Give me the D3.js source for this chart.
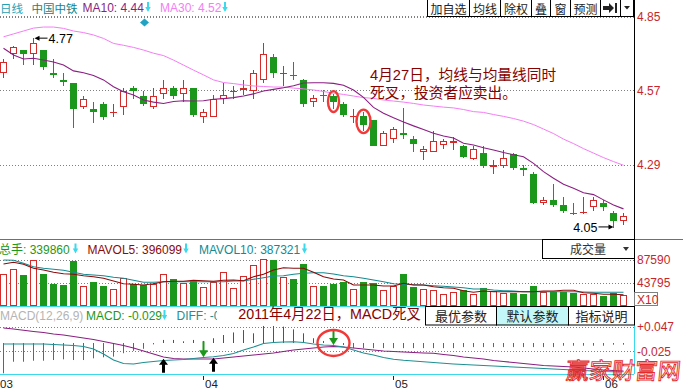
<!DOCTYPE html>
<html><head><meta charset="utf-8">
<script src="https://cdn.jsdelivr.net/npm/d3@7"></script>
<style>body{margin:0;background:#fff;overflow:hidden}svg{display:block}</style>
</head><body>
<script>
// ---------------- DATA ----------------
const dates = ["03-04","03-07","03-08","03-09","03-10","03-11","03-14","03-15","03-16","03-17",
"03-18","03-21","03-22","03-23","03-24","03-25","03-28","03-29","03-30","03-31",
"04-01","04-06","04-07","04-08","04-11","04-12","04-13","04-14","04-15","04-18",
"04-19","04-20","04-21","04-22","04-25","04-26","04-27","04-28","04-29","05-03",
"05-04","05-05","05-06","05-09","05-10","05-11","05-12","05-13","05-16","05-17",
"05-18","05-19","05-20","05-23","05-24","05-25","05-26","05-27","05-30","05-31",
"06-01","06-02","06-03"];
const open  = [4.64,4.71,4.725,4.71,4.725,4.64,4.61,4.60,4.51,4.50, 4.52,4.485,4.51,4.58,4.55,4.51,4.56,4.58,4.56,4.58,
 4.47,4.47,4.54,4.565,4.575,4.57,4.61,4.70,4.635,4.63, 4.61,4.53,4.555,4.55,4.52,4.47,4.475,4.46,4.36,4.39,
 4.41,4.39,4.34,4.34,4.365,4.375,4.36,4.312,4.335,4.284, 4.286,4.33,4.28,4.255,4.145,4.158,4.137,4.11,4.11,4.13,
 4.147,4.11,4.08];
const high  = [4.69,4.74,4.725,4.77,4.725,4.69,4.64,4.60,4.55,4.53, 4.53,4.52,4.58,4.59,4.57,4.58,4.61,4.59,4.61,4.58,
 4.50,4.555,4.60,4.59,4.61,4.65,4.75,4.71,4.665,4.68, 4.615,4.555,4.575,4.56,4.53,4.50,4.49,4.46,4.42,4.435,
 4.505,4.40,4.36,4.42,4.39,4.395,4.365,4.36,4.36,4.31, 4.345,4.335,4.29,4.263,4.168,4.218,4.17,4.145,4.168,4.168,
 4.158,4.115,4.11];
const low   = [4.62,4.69,4.67,4.67,4.65,4.62,4.59,4.43,4.50,4.45, 4.46,4.47,4.48,4.54,4.515,4.50,4.54,4.54,4.53,4.47,
 4.45,4.47,4.52,4.54,4.555,4.54,4.60,4.62,4.59,4.61, 4.51,4.51,4.53,4.50,4.47,4.45,4.42,4.36,4.36,4.375,
 4.39,4.34,4.31,4.34,4.35,4.345,4.315,4.308,4.28,4.255, 4.28,4.27,4.25,4.142,4.137,4.13,4.11,4.102,4.106,4.117,
 4.117,4.05,4.062];
const close = [4.68,4.735,4.71,4.75,4.66,4.63,4.605,4.50,4.54,4.49, 4.47,4.49,4.57,4.57,4.52,4.55,4.58,4.55,4.58,4.48,
 4.49,4.54,4.555,4.57,4.58,4.64,4.71,4.64,4.64,4.625, 4.52,4.545,4.55,4.53,4.48,4.475,4.44,4.36,4.41,4.425,
 4.405,4.37,4.35,4.38,4.38,4.38,4.32,4.35,4.285,4.29, 4.316,4.28,4.27,4.147,4.158,4.14,4.115,4.107,4.114,4.158,
 4.13,4.08,4.097];
const ma10 = [4.732,4.706,4.691,4.694,4.687,4.680,4.668,4.646,4.639,4.629, 4.612,4.586,4.567,4.555,4.536,4.528,4.523,4.530,4.533,4.532,
 4.533,4.539,4.541,4.545,4.551,4.559,4.570,4.576,4.582,4.590, 4.600,4.601,4.601,4.599,4.592,4.574,4.546,4.508,4.486,4.469,
 4.453,4.438,4.424,4.410,4.400,4.392,4.372,4.366,4.355,4.347, 4.337,4.329,4.321,4.296,4.265,4.240,4.217,4.202,4.185,4.178,
 4.158,4.139,4.124];
const ma30 = [4.775,4.786,4.797,4.808,4.812,4.812,4.807,4.797,4.791,4.782, 4.769,4.750,4.743,4.735,4.725,4.713,4.704,4.687,4.668,4.649,
 4.631,4.612,4.602,4.598,4.593,4.589,4.587,4.585,4.585,4.581, 4.578,4.574,4.568,4.562,4.557,4.551,4.545,4.542,4.536,4.532,
 4.528,4.523,4.517,4.513,4.509,4.506,4.500,4.492,4.489,4.481, 4.474,4.466,4.456,4.443,4.426,4.409,4.388,4.371,4.352,4.335,
 4.318,4.303,4.289];
const volume = [60360,70450,59020,87590,60930,41890,39990,85680,38080,45700, 38080,31800,52740,41890,39990,42460,60360,51410,43790,47600,
 36750,46270,64170,34270,57690,78060,88920,87590,55220,51410, 79970,38080,38080,41890,45120,31800,45120,43220,30460,38080,
 60930,36180,31800,30460,22280,26080,30460,22280,33700,28560, 24180,25320,22850,38080,27230,27230,27230,25320,22280,22850,
 19610,25320,20940];
const mavol5 = [79970,83200,79400,71780,68540,64170,61500,60360,57690,55790, 52740,47600,42460,41320,39980,42460,46270,47030,47030,48930,
 48170,47030,48930,49500,48170,55790,60360,68540,72920,71780, 71780,64170,55790,51410,49500,39980,39980,39980,38080,38080,
 43220,39980,39980,36750,34840,33700,29130,26080,28560,27230, 27230,27230,27230,27230,28560,28560,29890,29890,25320,24180,
 22280,22280,21520];
const mavol10 = [87590,87010,81300,74830,71780,69880,67970,64170,60360,59020, 57690,54640,52740,48930,45120,45120,46270,46270,46270,46270,
 46270,46270,46270,47600,47600,50840,53880,57120,57690,60360, 62260,63400,63400,60930,57690,55790,52740,49500,46270,42460,
 41320,40560,39980,38650,37510,36180,34840,32370,32370,30460, 29130,28560,27230,27230,27230,27230,27230,27230,26660,26080,
 26080,26080,26080];
const diff = [-0.0029,-0.0029,-0.0029,-0.0029,-0.0029,-0.0044,-0.0059,-0.0073,-0.0103,-0.0176, -0.0323,-0.0499,-0.0602,-0.0617,-0.0573,-0.0544,-0.0514,-0.0499,-0.0485,-0.0455,
 -0.0426,-0.0403,-0.0367,-0.0308,-0.0206,-0.0118,-0.0015,0.0015,0.0029,0.0038, 0.0015,-0.0029,-0.0059,-0.0073,-0.0118,-0.0206,-0.0294,-0.0353,-0.0426,-0.0479,
 -0.0508,-0.0529,-0.0549,-0.0573,-0.0596,-0.0617,-0.0632,-0.0646,-0.0661,-0.0676, -0.0690,-0.0705,-0.0720,-0.0735,-0.0749,-0.0764,-0.0779,-0.0793,-0.0808,-0.0823,
 -0.0837,-0.0843,-0.0843];
const dea = [0.0441,0.0411,0.0373,0.0338,0.0308,0.0264,0.0235,0.0191,0.0147,0.0103, 0.0044,-0.0015,-0.0073,-0.0147,-0.0235,-0.0323,-0.0411,-0.0455,-0.0470,-0.0470,
 -0.0470,-0.0470,-0.0441,-0.0411,-0.0382,-0.0353,-0.0323,-0.0294,-0.0250,-0.0206, -0.0176,-0.0147,-0.0118,-0.0103,-0.0118,-0.0147,-0.0176,-0.0206,-0.0235,-0.0250,
 -0.0264,-0.0279,-0.0294,-0.0303,-0.0338,-0.0367,-0.0411,-0.0441,-0.0470,-0.0514, -0.0544,-0.0573,-0.0602,-0.0632,-0.0661,-0.0676,-0.0690,-0.0705,-0.0735,-0.0764,
 -0.0793,-0.0808,-0.0823];
const macd = [-0.089,-0.055,-0.055,-0.052,-0.052,-0.050,-0.048,-0.050,-0.050,-0.045, -0.042,-0.040,-0.030,-0.023,-0.017,-0.004,0.009,0.009,0.005,0.009,
 0.006,0.014,0.0235,0.031,0.038,0.0285,0.050,0.050,0.048,0.040, 0.0285,0.014,0.006,-0.004,-0.006,-0.015,-0.015,-0.015,-0.015,-0.015,
 -0.015,-0.015,-0.015,-0.015,-0.015,-0.015,-0.012,-0.012,-0.012,-0.012, -0.012,-0.012,-0.012,-0.012,-0.012,-0.012,-0.008,-0.008,-0.008,-0.008,
 -0.008,-0.005,-0.005];
const priceTicks = [4.85, 4.57, 4.29];
const volTicks = [87590, 43795];
const macdTicks = [0.047, -0.025];
const topButtons = ["加自选","均线","除权","叠","窗","预测"];
const macdButtons = ["最优参数","默认参数","指标说明"];
const goldenCross = ["03-28","04-06"];   // black up arrows
const deadCross = ["04-01","04-22"];     // green down arrows
const circledDays = ["04-22","04-27"];
const annoMain = ["4月27日，均线与均量线同时","死叉，投资者应卖出。"];
const annoMacd = "2011年4月22日，MACD死叉";

// ---------------- DRAW ----------------
const W = 683, H = 391;
const F = "'Liberation Sans','Noto Sans CJK SC',sans-serif";
const RED = "#d42a2a", GREEN = "#1b981b", CYAN = "#3cd8ec", LABEL = "#c8262c", DARKRED = "#880000";
const svg = d3.select("body").append("svg").attr("width", W).attr("height", H)
  .style("font-family", F);

const x = d3.scaleBand().domain(dates).range([-1.5, 628.5]).paddingInner(0.3).paddingOuter(0.15);
const cx = d => x(d) + x.bandwidth() / 2;
const yP = d3.scaleLinear().domain([4.29, 4.85]).range([165, 17]);
const yV = d3.scaleLinear().domain([0, 87590]).range([306, 260]);
const yM = d3.scaleLinear().domain([0, 0.047]).range([343, 327]);
const AXX = 634;

function hdot(y, x1, x2) {
  svg.append("line").attr("x1", x1).attr("x2", x2).attr("y1", Math.floor(y) + 0.5).attr("y2", Math.floor(y) + 0.5)
    .attr("stroke", "#808080").attr("stroke-dasharray", "1,2");
}
function hline(y, x1, x2, c) {
  svg.append("line").attr("x1", x1).attr("x2", x2).attr("y1", y).attr("y2", y).attr("stroke", c);
}

// grid lines
priceTicks.forEach(v => hdot(yP(v), 0, AXX));
volTicks.forEach(v => hdot(yV(v), 0, AXX));
macdTicks.forEach(v => hdot(yM(v), 0, AXX));

// panel separators
hline(239.5, 0, W, "#707070");
hline(306.5, 0, AXX, CYAN);
hline(374.5, 0, AXX, CYAN);

// ---- candles ----
const gC = svg.append("g");
dates.forEach((d, i) => {
  const bx = x(d), up = close[i] >= open[i];
  const col = up ? RED : GREEN;
  const hy = Math.round(yP(high[i])), ly = Math.round(yP(low[i]));
  gC.append("rect").attr("x", bx + 3).attr("y", hy).attr("width", 1).attr("height", Math.max(1, ly - hy)).attr("fill", col);
  const top = Math.round(yP(Math.max(open[i], close[i]))), bot = Math.round(yP(Math.min(open[i], close[i])));
  if (bot - top < 2) {
    gC.append("rect").attr("x", bx).attr("y", top).attr("width", 7).attr("height", 1).attr("fill", col);
  } else if (up) {
    gC.append("rect").attr("x", bx + 0.5).attr("y", top + 0.5).attr("width", 6).attr("height", bot - top - 1)
      .attr("fill", "#fff").attr("stroke", col);
  } else {
    gC.append("rect").attr("x", bx).attr("y", top).attr("width", 7).attr("height", bot - top).attr("fill", col);
  }
});

// MA lines
const lineP = d3.line().x((v, i) => cx(dates[i])).y(v => yP(v));
svg.append("path").attr("d", lineP(ma30)).attr("fill", "none").attr("stroke", "#f47ef4").attr("stroke-width", 1);
svg.append("path").attr("d", lineP(ma10)).attr("fill", "none").attr("stroke", "#8a1f82").attr("stroke-width", 1.1);

// max / min markers
const iMax = d3.maxIndex(high), iMin = d3.minIndex(low);
{
  const px = cx(dates[iMax]) + 1, py = yP(high[iMax]);
  svg.append("line").attr("x1", px + 3).attr("x2", px + 13).attr("y1", py).attr("y2", py).attr("stroke", "#000");
  svg.append("path").attr("d", `M${px},${py}L${px + 5},${py - 2.5}L${px + 5},${py + 2.5}Z`).attr("fill", "#000");
  svg.append("text").attr("x", px + 14).attr("y", py + 5).attr("font-size", 12.5).attr("fill", "#000").text(high[iMax].toFixed(2));
  const qx = cx(dates[iMin]), qy = yP(low[iMin]) - 1.5;
  svg.append("line").attr("x1", qx - 15).attr("x2", qx - 4).attr("y1", qy).attr("y2", qy).attr("stroke", "#000");
  svg.append("path").attr("d", `M${qx},${qy}L${qx - 5},${qy - 2.5}L${qx - 5},${qy + 2.5}Z`).attr("fill", "#000");
  svg.append("text").attr("x", qx - 16).attr("y", qy + 5).attr("text-anchor", "end").attr("font-size", 12.5).attr("fill", "#000").text(low[iMin].toFixed(2));
}

// circled candles
circledDays.forEach((d, k) => {
  const i = dates.indexOf(d);
  const y1 = yP(high[i]), y2 = yP(low[i]);
  svg.append("ellipse").attr("cx", cx(d)).attr("cy", (y1 + y2) / 2).attr("rx", k === 0 ? 5.5 : 7)
    .attr("ry", (y2 - y1) / 2 + 2.5).attr("fill", "none").attr("stroke", "#f03a3a").attr("stroke-width", 2.4);
});

// main annotation
svg.append("text").attr("x", 370).attr("y", 80).attr("font-size", 14.7).attr("fill", DARKRED).text(annoMain[0]);
svg.append("text").attr("x", 370).attr("y", 97.5).attr("font-size", 14.7).attr("fill", DARKRED).text(annoMain[1]);

// cyan diamond marker
svg.append("path").attr("d", "M144.5,18.5L149,22.5L144.5,26.5L140,22.5Z").attr("fill", "#1fa3c3");

// ---- volume ----
const gV = svg.append("g");
dates.forEach((d, i) => {
  const bx = x(d), up = close[i] >= open[i];
  const col = up ? RED : GREEN;
  const top = Math.round(yV(volume[i]));
  if (up) gV.append("rect").attr("x", bx + 0.5).attr("y", top + 0.5).attr("width", 6).attr("height", 306 - top - 1)
    .attr("fill", "#fff").attr("stroke", col);
  else gV.append("rect").attr("x", bx).attr("y", top).attr("width", 7).attr("height", 306 - top).attr("fill", col);
});
const lineV = d3.line().x((v, i) => cx(dates[i])).y(v => yV(v));
svg.append("path").attr("d", lineV(mavol10)).attr("fill", "none").attr("stroke", "#148a90").attr("stroke-width", 1.1);
svg.append("path").attr("d", lineV(mavol5)).attr("fill", "none").attr("stroke", "#8b0a0a").attr("stroke-width", 1.1);

// ---- MACD ----
const gM = svg.append("g");
dates.forEach((d, i) => {
  const y0 = yM(0), y1 = yM(macd[i]);
  gM.append("rect").attr("x", x(d) + 3).attr("y", Math.min(y0, y1)).attr("width", 1).attr("height", Math.abs(y1 - y0))
    .attr("fill", macd[i] >= 0 ? "#c82020" : GREEN);
});
const lineM = d3.line().x((v, i) => cx(dates[i])).y(v => yM(v));
svg.append("path").attr("d", lineM(dea)).attr("fill", "none").attr("stroke", "#8a1f82").attr("stroke-width", 1.1);
svg.append("path").attr("d", lineM(diff)).attr("fill", "none").attr("stroke", "#1f8f92").attr("stroke-width", 1.1);

goldenCross.forEach(d => {
  const i = dates.indexOf(d), ax = cx(d), t = yM((diff[i] + dea[i]) / 2);
  svg.append("path").attr("d", `M${ax},${t}L${ax + 4.5},${t + 6}L${ax + 1.5},${t + 6}L${ax + 1.5},${t + 14}L${ax - 1.5},${t + 14}L${ax - 1.5},${t + 6}L${ax - 4.5},${t + 6}Z`).attr("fill", "#000");
});
deadCross.forEach(d => {
  const i = dates.indexOf(d), ax = cx(d), t = yM((diff[i] + dea[i]) / 2) - 1;
  svg.append("path").attr("d", `M${ax},${t}L${ax + 4.5},${t - 7}L${ax + 1},${t - 7}L${ax + 1},${t - 16}L${ax - 1},${t - 16}L${ax - 1},${t - 7}L${ax - 4.5},${t - 7}Z`).attr("fill", "#1b981b");
});
{
  const i = dates.indexOf("04-22");
  svg.append("ellipse").attr("cx", cx("04-22")).attr("cy", yM((diff[i] + dea[i]) / 2) - 3).attr("rx", 16).attr("ry", 13)
    .attr("fill", "none").attr("stroke", "#f03a3a").attr("stroke-width", 2.4);
}

// ---- right axis ----
svg.append("line").attr("x1", AXX + 0.5).attr("x2", AXX + 0.5).attr("y1", 0).attr("y2", 325).attr("stroke", "#000");
svg.append("line").attr("x1", AXX + 0.5).attr("x2", AXX + 0.5).attr("y1", 325).attr("y2", 374).attr("stroke", CYAN);
function styleAxis(g) {
  g.select(".domain").remove();
  g.selectAll("line").remove();
  g.selectAll("text").attr("fill", LABEL).attr("font-size", 12).attr("font-family", F);
}
svg.append("g").attr("transform", `translate(${AXX},0)`)
  .call(d3.axisRight(yP).tickValues(priceTicks).tickSize(0).tickPadding(3).tickFormat(d3.format(".2f"))).call(styleAxis);
svg.append("g").attr("transform", `translate(${AXX},0)`)
  .call(d3.axisRight(yV).tickValues(volTicks).tickSize(0).tickPadding(3).tickFormat(d => String(d))).call(styleAxis);
svg.append("g").attr("transform", `translate(${AXX},0)`)
  .call(d3.axisRight(yM).tickValues(macdTicks).tickSize(0).tickPadding(3)
    .tickFormat(d => (d > 0 ? "+" : "") + d3.format(".3f")(d).replace("\u2212", "-"))).call(styleAxis);
// X10 box
svg.append("rect").attr("x", AXX + 0.5).attr("y", 292.5).attr("width", 23).attr("height", 13).attr("fill", "none").attr("stroke", "#808080");
svg.append("text").attr("x", AXX + 3).attr("y", 304).attr("font-size", 12).attr("fill", LABEL).text("X10");

// ---- bottom axis ----
const monthStarts = dates.filter((d, i) => i === 0 || d.slice(0, 2) !== dates[i - 1].slice(0, 2));
const gx = svg.append("g").attr("transform", "translate(0,376)")
  .call(d3.axisBottom(x).tickValues(monthStarts).tickSize(4).tickFormat(d => d.slice(0, 2)));
gx.select(".domain").remove();
gx.selectAll("line").attr("stroke", "#222");
gx.selectAll("text").attr("text-anchor", "start").attr("x", 1.5).attr("y", 11.5).attr("dy", 0)
  .attr("font-size", 11.5).attr("fill", "#222").attr("font-family", F);
gx.selectAll(".tick").filter(d => d === dates[0]).each(function () {
  d3.select(this).select("line").remove();
  d3.select(this).select("text").attr("x", -3.5);
});

// ---- header texts ----
function arrowDown(ax, ay, c) {
  svg.append("path").attr("d", `M${ax - 1},${ay}L${ax + 1},${ay}L${ax + 1},${ay + 5}L${ax + 2.7},${ay + 5}L${ax},${ay + 10}L${ax - 2.7},${ay + 5}L${ax - 1},${ay + 5}Z`).attr("fill", c);
}
function txt(tx, ty, s, c, fs) {
  return svg.append("text").attr("x", tx).attr("y", ty).attr("font-size", fs || 12).attr("fill", c).text(s);
}
// top header
hdot(16.7, 0, 427);
txt(0, 12.5, "日线", "#1ea2b6", 11.5);
txt(31.5, 12.5, "中国中铁", "#168486", 11.5);
txt(82.5, 12, "MA10: 4.44", "#8a1f82", 12);
arrowDown(148, 2, CYAN);
txt(160, 12, "MA30: 4.52", "#f47ef4", 12);
arrowDown(225, 2, CYAN);
// top buttons
const tb = [427.5, 469.5, 500.5, 531.5, 550.5, 570.5, 600.5, 620.5, 633.5];
for (let k = 0; k < tb.length - 1; k++) {
  svg.append("rect").attr("x", tb[k]).attr("y", -1.5).attr("width", tb[k + 1] - tb[k]).attr("height", 18)
    .attr("fill", "#fff").attr("stroke", "#000");
}
topButtons.forEach((b, k) => {
  svg.append("text").attr("x", (tb[k] + tb[k + 1]) / 2).attr("y", 13.5).attr("text-anchor", "middle")
    .attr("font-size", 12).attr("fill", "#222").attr("font-family", "'Noto Sans CJK SC',sans-serif").text(b);
});
svg.append("path").attr("d", "M603,6L609,6L609,3L614,8L609,13L609,10L603,10Z").attr("fill", "#222");
svg.append("rect").attr("x", 615).attr("y", 3).attr("width", 2).attr("height", 10).attr("fill", "#222");
svg.append("path").attr("d", "M624,6L630,6L627,9.5Z").attr("fill", "#222");

// volume header
txt(-1, 253.5, "总手: 339860", GREEN, 12);
arrowDown(75.5, 243.5, CYAN);
txt(87.5, 253.5, "MAVOL5: 396099", "#8b0a0a", 12);
arrowDown(186, 243.5, CYAN);
txt(199, 253.5, "MAVOL10: 387321", "#148a90", 12);
arrowDown(304.5, 243.5, CYAN);
// 成交量 box
svg.append("rect").attr("x", 542.5).attr("y", 239.5).attr("width", 92).attr("height", 19).attr("fill", "#fff").attr("stroke", "#000");
svg.append("text").attr("x", 570).attr("y", 254).attr("font-size", 12).attr("fill", "#333").attr("font-family", "'Noto Sans CJK SC',sans-serif").text("成交量");
svg.append("path").attr("d", "M623,247L629,247L626,251Z").attr("fill", "#333");

// MACD header
svg.append("clipPath").attr("id", "hc").append("rect").attr("x", 0).attr("y", 300).attr("width", 217).attr("height", 30);
const gh = svg.append("g").attr("clip-path", "url(#hc)");
gh.append("text").attr("x", 0).attr("y", 320).attr("font-size", 12).attr("fill", "#b4b4b4").text("MACD(12,26,9)");
gh.append("text").attr("x", 86).attr("y", 320).attr("font-size", 12).attr("fill", GREEN).text("MACD: -0.029");
gh.append("text").attr("x", 176.5).attr("y", 320).attr("font-size", 12).attr("fill", "#1f8f92").text("DIFF: -0.047");
arrowDown(164.5, 310, CYAN);
svg.append("text").attr("x", 238.3).attr("y", 318.5).attr("font-size", 14.3).attr("fill", DARKRED).text(annoMacd);
// MACD buttons
const mb = [425.5, 496.5, 568.5, 634.5];
macdButtons.forEach((b, k) => {
  svg.append("rect").attr("x", mb[k]).attr("y", 306.5).attr("width", mb[k + 1] - mb[k]).attr("height", 18.5)
    .attr("fill", k === 1 ? "#c4f8f8" : "#fff").attr("stroke", "#000");
  svg.append("text").attr("x", (mb[k] + mb[k + 1]) / 2).attr("y", 321).attr("text-anchor", "middle")
    .attr("font-size", 13).attr("fill", "#222").attr("font-family", "'Noto Sans CJK SC',sans-serif").text(b);
});

// watermark
svg.append("text").attr("x", 566).attr("y", 379).attr("font-size", 23).attr("fill", "none")
  .attr("stroke", "#e42a2a").attr("stroke-width", 0.9).attr("font-family", "'Noto Sans CJK SC',sans-serif")
  .attr("transform", "skewX(-6) translate(39,0)").text("赢家财富网");
</script>
</body></html>
